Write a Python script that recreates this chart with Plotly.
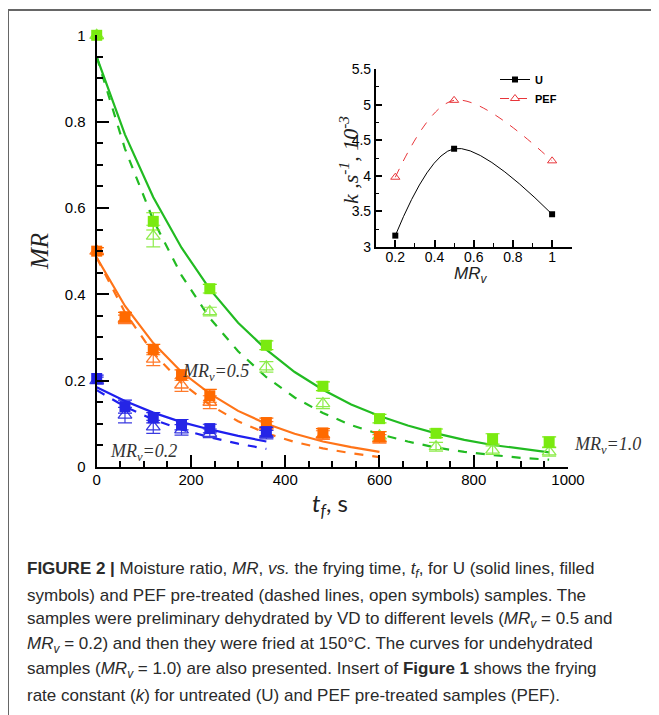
import plotly.graph_objects as go

# page body has an 8px margin, so the figure is drawn 8px in from the window edge
OFF = 8
W, H = 659 - OFF, 715 - OFF

# ---------------- data ----------------
t_green = [0, 120, 240, 360, 480, 600, 720, 840, 960]
mr_green_u = [1.0, 0.569, 0.413, 0.282, 0.187, 0.112, 0.078, 0.065, 0.058]
mr_green_pef = [1.0, 0.535, 0.36, 0.232, 0.147, 0.072, 0.047, 0.039, 0.035]
err_green_u = [0.008, 0.02, 0.01, 0.01, 0.01, 0.01, 0.01, 0.012, 0.012]
err_green_pef = [0.008, 0.025, 0.01, 0.012, 0.012, 0.01, 0.01, 0.01, 0.01]

t_orange = [0, 60, 120, 180, 240, 360, 480, 600]
mr_orange_u = [0.5, 0.348, 0.272, 0.213, 0.165, 0.103, 0.079, 0.07]
mr_orange_pef = [0.5, 0.342, 0.25, 0.19, 0.15, 0.095, 0.074, 0.065]
err_orange_u = [0.008, 0.01, 0.012, 0.012, 0.015, 0.01, 0.01, 0.012]
err_orange_pef = [0.008, 0.01, 0.015, 0.015, 0.015, 0.01, 0.01, 0.01]

t_blue = [0, 60, 120, 180, 240, 360]
mr_blue_u = [0.205, 0.14, 0.114, 0.098, 0.089, 0.082]
mr_blue_pef = [0.2, 0.12, 0.093, 0.086, 0.078, 0.075]
err_blue_u = [0.008, 0.015, 0.012, 0.012, 0.01, 0.01]
err_blue_pef = [0.008, 0.018, 0.015, 0.012, 0.01, 0.01]

# fitted curves
tc_green = [0, 60, 120, 180, 240, 300, 360, 420, 480, 540, 600, 660, 720, 780, 840, 900, 960]
fit_green_u = [0.95, 0.77, 0.625, 0.508, 0.412, 0.334, 0.272, 0.22, 0.179, 0.145, 0.118, 0.096, 0.078, 0.063, 0.051, 0.042, 0.034]
fit_green_pef = [0.95, 0.737, 0.572, 0.444, 0.345, 0.268, 0.208, 0.161, 0.125, 0.097, 0.076, 0.059, 0.045, 0.035, 0.028, 0.021, 0.017]
tc_orange = [0, 60, 120, 180, 240, 300, 360, 420, 480, 540, 600]
fit_orange_u = [0.485, 0.373, 0.287, 0.22, 0.17, 0.13, 0.1, 0.077, 0.059, 0.046, 0.035]
fit_orange_pef = [0.485, 0.358, 0.264, 0.195, 0.144, 0.106, 0.078, 0.058, 0.043, 0.032, 0.023]
tc_blue = [0, 60, 120, 180, 240, 300, 360]
fit_blue_u = [0.185, 0.153, 0.126, 0.104, 0.087, 0.072, 0.059]
fit_blue_pef = [0.178, 0.14, 0.11, 0.087, 0.069, 0.054, 0.042]

# inset
mrv = [0.2, 0.5, 1.0]
k_u = [3.16, 4.38, 3.46]
k_pef = [3.98, 5.06, 4.21]

x_ticks = [0, 200, 400, 600, 800, 1000]
y_ticks = [0, 0.2, 0.4, 0.6, 0.8, 1]

# ---------------- helpers (window pixel -> paper fraction) ----------------
def px(x):
    return (x - OFF) / W

def py(y):
    return 1 - (y - OFF) / H

fig = go.Figure()

groups = [
    (t_green, mr_green_u, mr_green_pef, err_green_u, err_green_pef, tc_green, fit_green_u, fit_green_pef,
     "#7aea10", "#8eec4c", "#22bb22"),
    (t_orange, mr_orange_u, mr_orange_pef, err_orange_u, err_orange_pef, tc_orange, fit_orange_u, fit_orange_pef,
     "#ff6a00", "#ff7a2a", "#ff7418"),
    (t_blue, mr_blue_u, mr_blue_pef, err_blue_u, err_blue_pef, tc_blue, fit_blue_u, fit_blue_pef,
     "#2525e6", "#3a3ae0", "#1f1fee"),
]

for (t, u, p, eu, ep, tc, fu, fp, cm, ct, cl) in groups:
    fig.add_trace(go.Scatter(x=tc, y=fu, mode="lines", line=dict(color=cl, width=2.2),
                             showlegend=False, xaxis="x", yaxis="y", cliponaxis=False))
    fig.add_trace(go.Scatter(x=tc, y=fp, mode="lines", line=dict(color=cl, width=2.2, dash="dash"),
                             showlegend=False, xaxis="x", yaxis="y", cliponaxis=False))
    fig.add_trace(go.Scatter(x=t, y=p, mode="markers",
                             marker=dict(symbol="triangle-up-open", size=12, color=ct, line=dict(width=1.3)),
                             error_y=dict(type="data", array=ep, color=ct, thickness=1.2, width=7),
                             showlegend=False, xaxis="x", yaxis="y", cliponaxis=False))
    fig.add_trace(go.Scatter(x=t, y=u, mode="markers",
                             marker=dict(symbol="square", size=11, color=cm, line=dict(width=0)),
                             error_y=dict(type="data", array=eu, color=cm, thickness=1.2, width=7),
                             showlegend=False, xaxis="x", yaxis="y", cliponaxis=False))

# inset traces
fig.add_trace(go.Scatter(x=mrv, y=k_u, mode="lines+markers", name="<b>U</b>",
                         line=dict(color="black", width=1, shape="spline", smoothing=1.0),
                         marker=dict(symbol="square", size=6, color="black"),
                         xaxis="x2", yaxis="y2", cliponaxis=False))
fig.add_trace(go.Scatter(x=mrv, y=k_pef, mode="lines+markers", name="<b>PEF</b>",
                         line=dict(color="#e8353a", width=1, dash="dash", shape="spline", smoothing=1.0),
                         marker=dict(symbol="triangle-up-open", size=8, color="#e8353a"),
                         xaxis="x2", yaxis="y2", cliponaxis=False))

axis_font = dict(family="Liberation Sans, Arial, sans-serif", size=15, color="black")
inset_font = dict(family="Liberation Sans, Arial, sans-serif", size=14, color="black")

fig.update_layout(
    width=W, height=H,
    margin=dict(l=0, r=0, t=0, b=0, pad=0, autoexpand=False),
    paper_bgcolor="white", plot_bgcolor="rgba(0,0,0,0)",
    xaxis=dict(domain=[px(96.7), px(568)], range=[0, 1000], tickvals=x_ticks,
               showline=True, linecolor="black", linewidth=2, mirror=False,
               ticks="inside", ticklen=12, tickwidth=2, tickcolor="black",
               minor=dict(ticks="inside", ticklen=6, tickwidth=1.5, dtick=50, tickcolor="black"),
               showgrid=False, zeroline=False, tickfont=axis_font, anchor="y", automargin=False,
               ticklabelstandoff=-2),
    yaxis=dict(domain=[py(467), py(35.3)], range=[0, 1], tickvals=y_ticks,
               showline=True, linecolor="black", linewidth=2,
               ticks="inside", ticklen=12, tickwidth=2, tickcolor="black",
               minor=dict(ticks="inside", ticklen=6, tickwidth=1.5, dtick=0.05, tickcolor="black"),
               showgrid=False, zeroline=False, tickfont=axis_font, anchor="x", automargin=False,
               ticklabelstandoff=6),
    xaxis2=dict(domain=[px(375.7), px(571.7)], range=[0.1, 1.1], dtick=0.2, tick0=0.2,
                showline=True, linecolor="black", linewidth=1.5,
                ticks="inside", ticklen=7, tickwidth=1.5, tickcolor="black",
                minor=dict(ticks="inside", ticklen=4, tickwidth=1, dtick=0.1, tickcolor="black"),
                showgrid=False, zeroline=False, tickfont=inset_font, anchor="y2", automargin=False,
                ticklabelstandoff=-4),
    yaxis2=dict(domain=[py(247), py(69)], range=[3, 5.5], dtick=0.5,
                showline=True, linecolor="black", linewidth=1.5,
                ticks="inside", ticklen=7, tickwidth=1.5, tickcolor="black",
                minor=dict(ticks="inside", ticklen=4, tickwidth=1, dtick=0.25, tickcolor="black"),
                showgrid=False, zeroline=False, tickfont=inset_font, anchor="x2", automargin=False),
    legend=dict(x=px(495), y=py(65), xanchor="left", yanchor="top",
                bgcolor="rgba(0,0,0,0)", font=dict(family="Liberation Sans, Arial", size=11, color="black"),
                itemwidth=30, tracegroupgap=0),
    showlegend=True,
)

serif = "Liberation Serif, Times New Roman, serif"
anns = [
    dict(x=px(40), y=py(252), text="<i>MR</i>", textangle=-90,
         font=dict(family=serif, size=25, color="#222")),
    dict(x=px(330), y=py(505), text="<i>t<sub>f</sub></i>, s",
         font=dict(family="Lato, Open Sans, sans-serif", size=24, color="#222")),
    dict(x=px(215), y=py(372), text="<i>MR<sub>v</sub>=0.5</i>",
         font=dict(family=serif, size=18, color="#333")),
    dict(x=px(143), y=py(452), text="<i>MR<sub>v</sub>=0.2</i>",
         font=dict(family=serif, size=18, color="#333")),
    dict(x=px(572), y=py(445), text="<i>MR<sub>v</sub>=1.0</i>", xanchor="left",
         font=dict(family=serif, size=18, color="#333")),
    dict(x=px(349), y=py(160), text="<i>k ,s<sup>-1</sup>, 10<sup>-3</sup></i>", textangle=-90,
         font=dict(family=serif, size=22, color="#222")),
    dict(x=px(471), y=py(275), text="<i>MR<sub>v</sub></i>",
         font=dict(family="Liberation Sans, Arial", size=17, color="#222")),
]

cap_font = dict(family="Liberation Sans, Arial, sans-serif", size=17, color="#2a2a2a")
caption = [
    "<b>FIGURE 2 |</b> Moisture ratio, <i>MR</i>, <i>vs.</i> the frying time, <i>t<sub>f</sub></i>, for U (solid lines, filled",
    "symbols) and PEF pre-treated (dashed lines, open symbols) samples. The",
    "samples were preliminary dehydrated by VD to different levels (<i>MR<sub>v</sub></i> = 0.5 and",
    "<i>MR<sub>v</sub></i> = 0.2) and then they were fried at 150°C. The curves for undehydrated",
    "samples (<i>MR<sub>v</sub></i> = 1.0) are also presented. Insert of <b>Figure 1</b> shows the frying",
    "rate constant (<i>k</i>) for untreated (U) and PEF pre-treated samples (PEF).",
]
for i, line in enumerate(caption):
    anns.append(dict(x=px(25), y=py(570 + 25 * i), text=line, xanchor="left", yanchor="middle",
                     font=cap_font))

for a in anns:
    a.setdefault("xref", "paper")
    a.setdefault("yref", "paper")
    a.setdefault("showarrow", False)
    a.setdefault("xanchor", "center")
    a.setdefault("yanchor", "middle")
fig.update_layout(annotations=anns)

fig.update_layout(shapes=[
    dict(type="line", xref="paper", yref="paper", x0=0, y0=py(10), x1=1, y1=py(10),
         line=dict(color="#666", width=2)),
    dict(type="line", xref="paper", yref="paper", x0=0, y0=py(10), x1=0, y1=0,
         line=dict(color="#666", width=2)),
])

fig.write_html("out.html")
